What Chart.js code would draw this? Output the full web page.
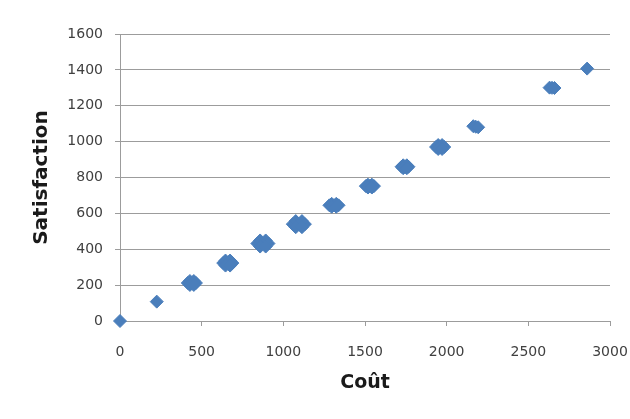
<!DOCTYPE html>
<html>
<head>
<meta charset="utf-8">
<script src="https://cdn.jsdelivr.net/npm/chart.js@4"></script>
<style>
  html, body { margin: 0; padding: 0; background: #ffffff; }
  canvas { display: block; }
</style>
</head>
<body>
<canvas id="chart" width="630" height="419"></canvas>
<script>
// Coût / Satisfaction observations (overlapping observations form the larger blobs)
const cost = [
  0,
  225,
  440, 415, 465, 428, 452, 428, 452,
  660, 632, 688, 646, 674, 646, 674,
  875, 841, 909, 858, 892, 858, 892,
  1095, 1058, 1132, 1076, 1114, 1076, 1114,
  1310, 1282, 1338, 1296, 1324, 1296, 1324,
  1530, 1505, 1555, 1518, 1542, 1518, 1542,
  1745, 1724, 1766, 1734, 1756, 1734, 1756,
  1960, 1935, 1985, 1948, 1972, 1948, 1972,
  2178, 2163, 2193,
  2645, 2630, 2660,
  2860
];
const satisfaction = [
  0,
  108,
  212, 212, 212, 223, 223, 201, 201,
  323, 323, 323, 337, 337, 309, 309,
  432, 432, 432, 449, 449, 415, 415,
  540, 540, 540, 557, 557, 523, 523,
  645, 645, 645, 653, 653, 637, 637,
  752, 752, 752, 760, 760, 744, 744,
  860, 860, 860, 868, 868, 852, 852,
  970, 970, 970, 981, 981, 959, 959,
  1083, 1086, 1080,
  1300, 1301, 1299,
  1407
];
const xTicks = [0, 500, 1000, 1500, 2000, 2500, 3000];
const yTicks = [0, 200, 400, 600, 800, 1000, 1200, 1400, 1600];

const points = cost.map((c, i) => ({ x: c, y: satisfaction[i] }));

const gridGrey = '#9c9c9c';
const labelColor = '#404040';
const family = '"DejaVu Sans", sans-serif';
const plainNumber = v => String(v);

new Chart(document.getElementById('chart'), {
  type: 'scatter',
  data: {
    datasets: [{
      data: points,
      pointStyle: 'rectRot',
      pointRadius: 6.5,
      pointHoverRadius: 6.5,
      borderWidth: 1,
      backgroundColor: '#4A7EBB',
      borderColor: '#4A7EBB',
      clip: false
    }]
  },
  options: {
    responsive: false,
    devicePixelRatio: 1,
    animation: false,
    layout: { padding: { left: 0, right: 20, top: 34, bottom: 0 } },
    plugins: { legend: { display: false }, tooltip: { enabled: false } },
    scales: {
      x: {
        type: 'linear',
        min: xTicks[0],
        max: xTicks[xTicks.length - 1],
        afterBuildTicks: s => { s.ticks = xTicks.map(v => ({ value: v })); },
        afterFit: s => { s.height = 98; s.paddingLeft = 0; s.paddingRight = 0; },
        grid: { drawOnChartArea: false, drawTicks: true, tickLength: 5, color: gridGrey },
        border: { display: true, color: gridGrey, width: 1 },
        ticks: { color: labelColor, font: { family, size: 14 }, padding: 18, maxRotation: 0, callback: plainNumber },
        title: {
          display: true,
          text: 'Coût',
          color: '#1a1a1a',
          font: { family, size: 19, weight: 'bold' },
          padding: { top: 0, bottom: 25 }
        }
      },
      y: {
        type: 'linear',
        min: yTicks[0],
        max: yTicks[yTicks.length - 1],
        afterBuildTicks: s => { s.ticks = yTicks.map(v => ({ value: v })); },
        afterFit: s => { s.width = 120; },
        grid: { drawTicks: true, tickLength: 5, color: gridGrey },
        border: { display: true, color: gridGrey, width: 1 },
        ticks: { color: labelColor, font: { family, size: 14 }, padding: 12, callback: plainNumber },
        title: {
          display: true,
          text: 'Satisfaction',
          color: '#1a1a1a',
          font: { family, size: 20, weight: 'bold' },
          padding: { top: 30, bottom: 0 }
        }
      }
    }
  }
});
</script>
</body>
</html>
